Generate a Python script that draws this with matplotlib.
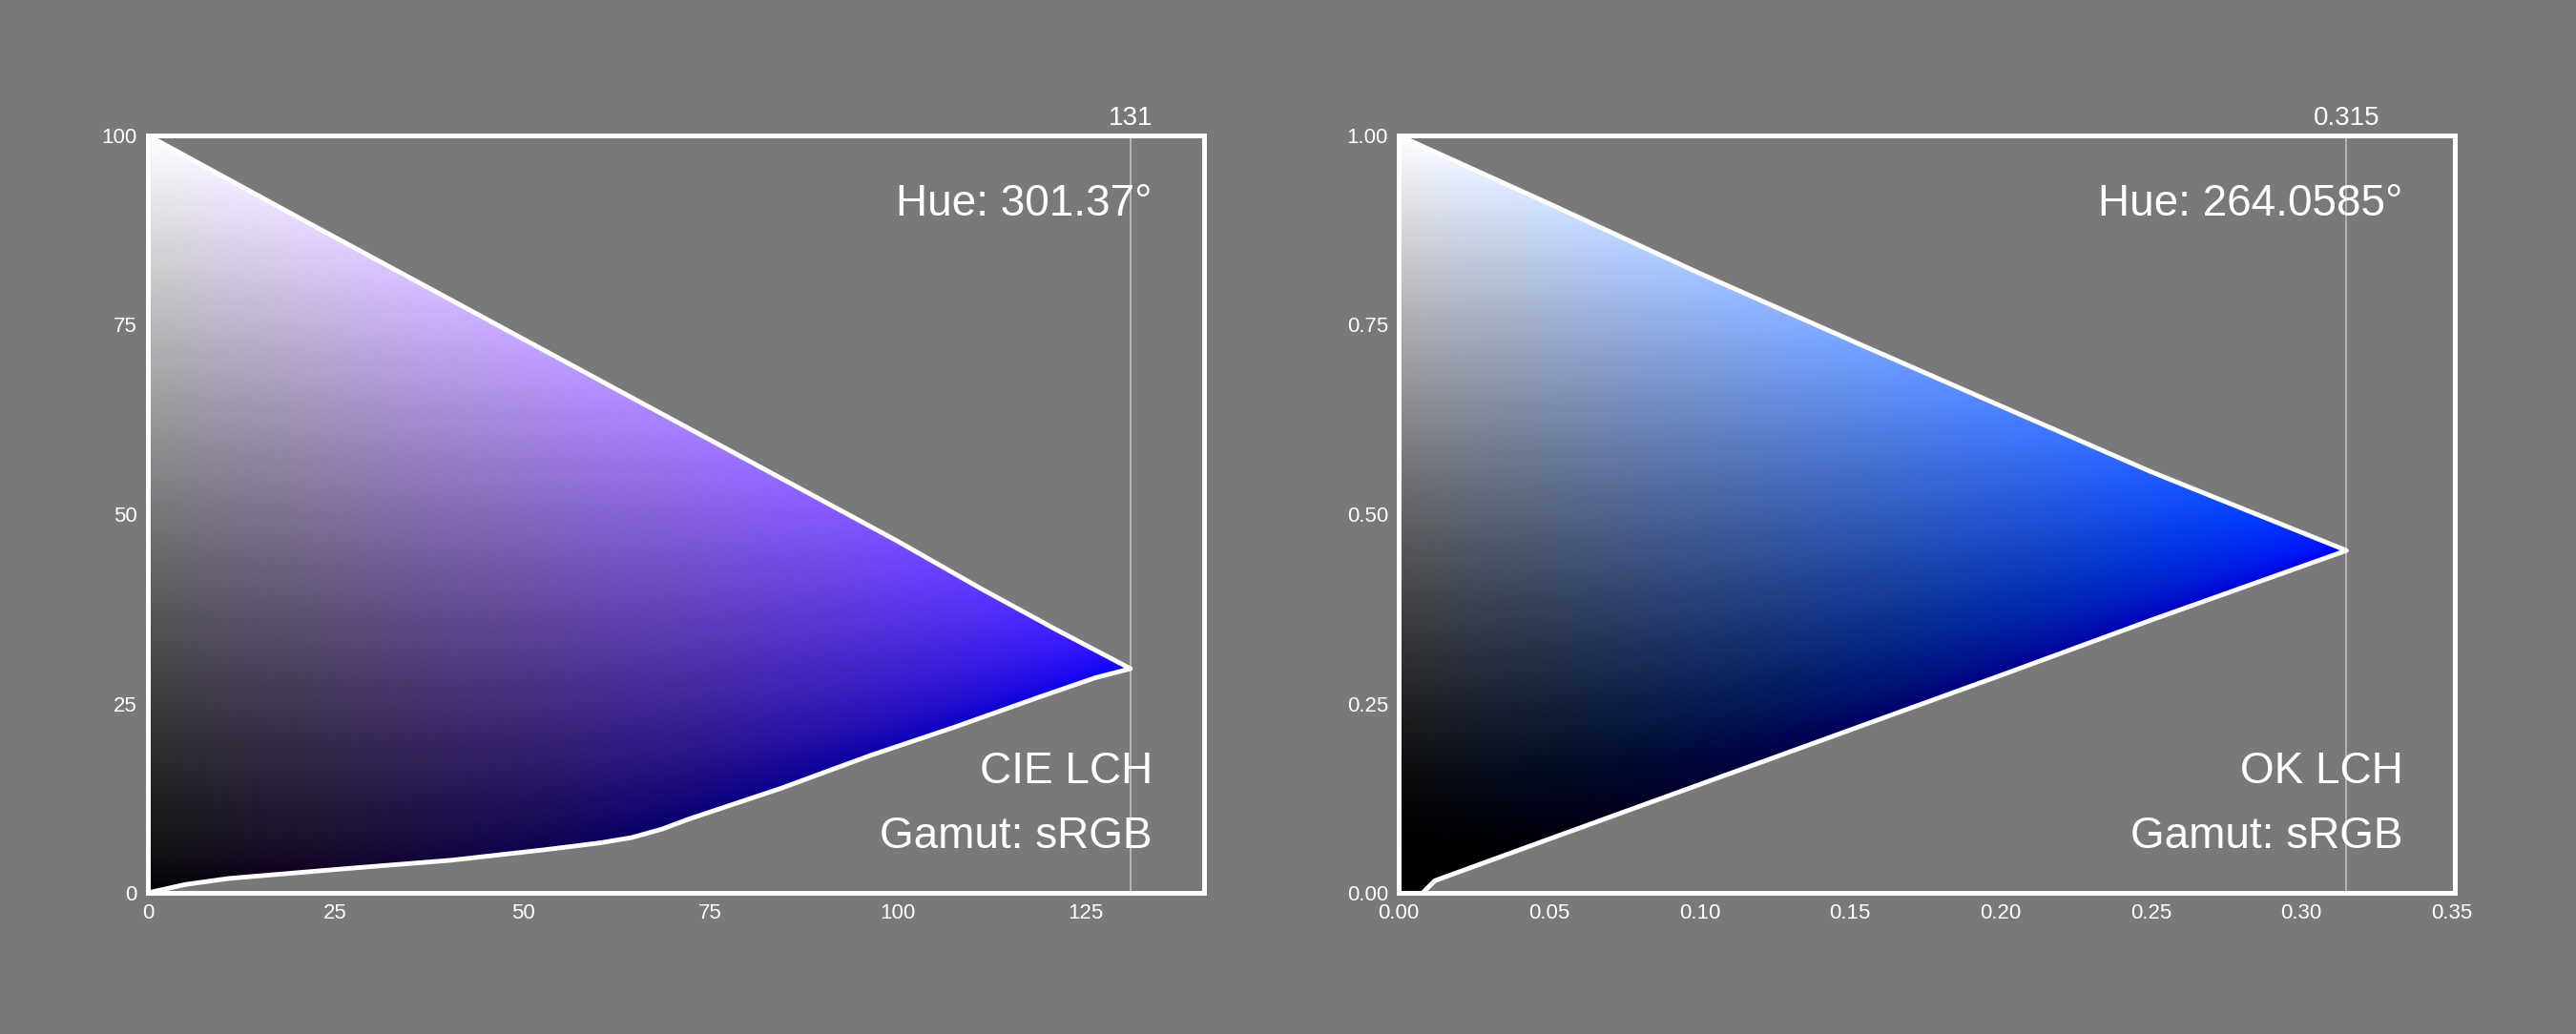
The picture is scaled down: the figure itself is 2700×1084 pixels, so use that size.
import numpy as np
import matplotlib
matplotlib.use("Agg")
import matplotlib.pyplot as plt
from matplotlib.patches import Polygon

plt.rcParams['font.family'] = ['Liberation Sans', 'DejaVu Sans']

# ---------------- data ----------------
# CIE LCH, hue 301.37 deg, sRGB gamut slice (Chroma, Lightness)
cie_hue = 301.37
cie_cusp_c = 131
cie_xmax = 140.8
cie_upper_c = [0, 20, 40, 60, 80, 100, 111, 121, 131]
cie_upper_l = [100, 89.2, 78.5, 67.8, 57.1, 46.4, 40.2, 34.8, 29.6]
cie_lower_c = [0, 5, 10.8, 27.7, 40.4, 53, 60.3, 64.5, 68.5, 72, 84.4, 96.2, 107.6, 118.7, 126.3, 131]
cie_lower_l = [0, 1.1, 1.9, 3.3, 4.3, 5.7, 6.6, 7.3, 8.4, 9.7, 13.8, 18.1, 21.9, 25.8, 28.4, 29.6]
cie_xticks = [0, 25, 50, 75, 100, 125]
cie_yticks = [0, 25, 50, 75, 100]

# OK LCH, hue 264.0585 deg
ok_hue = 264.0585
ok_cusp_c = 0.315
ok_xmax = 0.351
ok_upper_c = [0, 0.05, 0.10, 0.154, 0.20, 0.25, 0.315]
ok_upper_l = [1.0, 0.91, 0.818, 0.723, 0.643, 0.556, 0.452]
ok_lower_c = [0.008, 0.012, 0.05, 0.10, 0.15, 0.20, 0.25, 0.315]
ok_lower_l = [0.0, 0.016, 0.071, 0.143, 0.215, 0.287, 0.36, 0.452]
ok_xticks = [0.00, 0.05, 0.10, 0.15, 0.20, 0.25, 0.30, 0.35]
ok_yticks = [0.00, 0.25, 0.50, 0.75, 1.00]

BG = '#797979'

# ---------------- colour conversions ----------------
BRAD = np.array([[0.9554734527042182, -0.023098536874261423, 0.0632593086610217],
                 [-0.028369706963208136, 1.0099954580058226, 0.021041398966943008],
                 [0.012314001688319899, -0.020507696433477912, 1.3303659366080753]])
M_SRGB = np.array([[3.2409699419045226, -1.537383177570094, -0.4986107602930034],
                   [-0.9692436362808796, 1.8759675015077202, 0.04155505740717559],
                   [0.05563007969699366, -0.20397695888897652, 1.0569715142428786]])


def gamma(x):
    x = np.clip(x, 0, 1)
    return np.where(x <= 0.0031308, 12.92 * x, 1.055 * np.power(x, 1 / 2.4) - 0.055)


def cielch_to_srgb(L, C, h):
    a = C * np.cos(np.radians(h))
    b = C * np.sin(np.radians(h))
    fy = (L + 16) / 116
    fx = fy + a / 500
    fz = fy - b / 200
    eps = 6 / 29

    def finv(t):
        return np.where(t > eps, t ** 3, 3 * eps ** 2 * (t - 4 / 29))
    X = 0.96422 * finv(fx)
    Y = finv(fy)
    Z = 0.82521 * finv(fz)
    xyz = np.stack([X, Y, Z], -1)
    rgb = xyz @ BRAD.T @ M_SRGB.T
    return gamma(rgb)


def oklch_to_srgb(L, C, h):
    a = C * np.cos(np.radians(h))
    b = C * np.sin(np.radians(h))
    l_ = L + 0.3963377774 * a + 0.2158037573 * b
    m_ = L - 0.1055613458 * a - 0.0638541728 * b
    s_ = L - 0.0894841775 * a - 1.2914855480 * b
    l, m, s = l_ ** 3, m_ ** 3, s_ ** 3
    r = 4.0767416621 * l - 3.3077115913 * m + 0.2309699292 * s
    g = -1.2684380046 * l + 2.6097574011 * m - 0.3413193965 * s
    bb = -0.0041960863 * l - 0.7034186147 * m + 1.7076147010 * s
    return gamma(np.stack([r, g, bb], -1))


# ---------------- figure ----------------
fig = plt.figure(figsize=(27, 10.84), dpi=100, facecolor=BG)
W, H = 2700, 1084
ax_w = 1107 / W
ax_b = (H - 936) / H
ax_h = 794 / H
ax1 = fig.add_axes([155 / W, ax_b, ax_w, ax_h])
ax2 = fig.add_axes([1466 / W, ax_b, ax_w, ax_h])


def panel(ax, conv, hue, xmax, ymax, up_c, up_l, lo_c, lo_l, cusp_c, cusp_txt,
          xticks, yticks, fmt, hue_txt, space_txt):
    ax.set_facecolor(BG)
    cg = np.linspace(0, xmax, 800)
    lg = np.linspace(0, ymax, 600)
    CC, LL = np.meshgrid(cg, lg)
    rgb = conv(LL, CC, hue)
    im = ax.imshow(rgb, origin='lower', extent=[0, xmax, 0, ymax], aspect='auto',
                   interpolation='bilinear', zorder=1)
    verts = list(zip(up_c, up_l)) + list(zip(lo_c[::-1], lo_l[::-1])) + [(0, 0)]
    poly = Polygon(verts, closed=True, transform=ax.transData,
                   facecolor='none', edgecolor='none')
    ax.add_patch(poly)
    im.set_clip_path(poly)
    ax.plot(list(lo_c) + list(up_c[::-1]), list(lo_l) + list(up_l[::-1]),
            color='white', lw=3.5, solid_joinstyle='round', solid_capstyle='round', zorder=3)
    ax.axvline(cusp_c, color='#b4b4b4', lw=1.4, zorder=2)
    ax.annotate(cusp_txt, xy=(cusp_c, 1), xycoords=('data', 'axes fraction'),
                xytext=(0, 8), textcoords='offset points', ha='center', va='baseline',
                fontsize=20, color='white', annotation_clip=False)
    ax.set_xlim(0, xmax)
    ax.set_ylim(0, ymax)
    ax.set_xticks(xticks)
    ax.set_yticks(yticks)
    ax.set_xticklabels([fmt(v) for v in xticks])
    ax.set_yticklabels([fmt(v) for v in yticks])
    ax.tick_params(length=0, labelsize=16, labelcolor='white', pad=8)
    for sp in ax.spines.values():
        sp.set_color('white')
        sp.set_linewidth(3.6)
        sp.set_zorder(5)
    ax.text(0.951, 0.894, hue_txt, transform=ax.transAxes, ha='right', va='baseline',
            fontsize=33, color='white', zorder=6)
    ax.text(0.951, 0.145, space_txt, transform=ax.transAxes, ha='right', va='baseline',
            fontsize=33, color='white', zorder=6)
    ax.text(0.951, 0.059, 'Gamut: sRGB', transform=ax.transAxes, ha='right', va='baseline',
            fontsize=33, color='white', zorder=6)


panel(ax1, cielch_to_srgb, cie_hue, cie_xmax, 100, cie_upper_c, cie_upper_l,
      cie_lower_c, cie_lower_l, cie_cusp_c, '131', cie_xticks, cie_yticks,
      lambda v: f'{v:d}', 'Hue: 301.37°', 'CIE LCH')
panel(ax2, oklch_to_srgb, ok_hue, ok_xmax, 1.0, ok_upper_c, ok_upper_l,
      ok_lower_c, ok_lower_l, ok_cusp_c, '0.315', ok_xticks, ok_yticks,
      lambda v: f'{v:.2f}', 'Hue: 264.0585°', 'OK LCH')

fig.savefig('out.png', dpi=100, facecolor=BG)
